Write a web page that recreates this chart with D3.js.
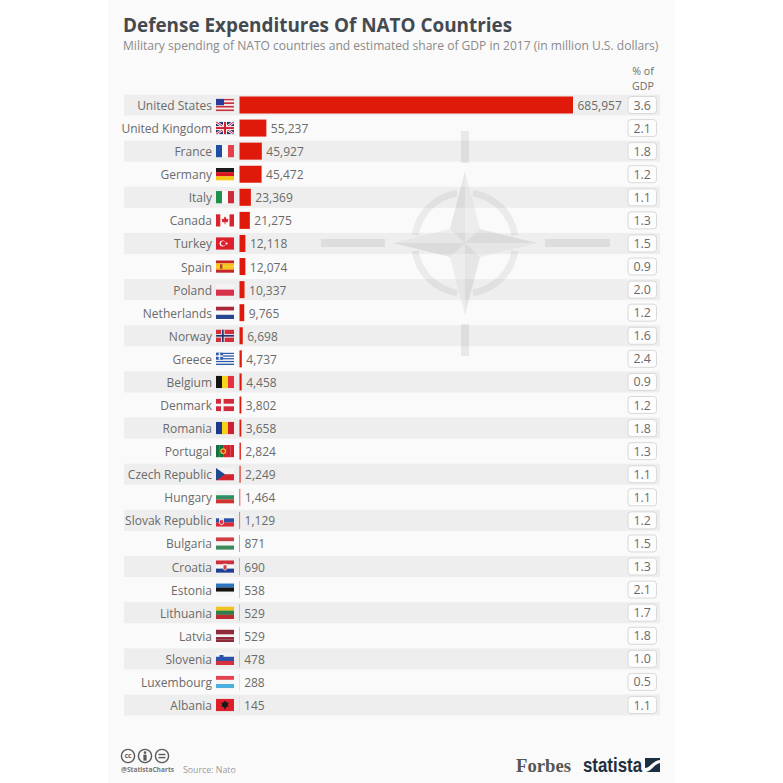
<!DOCTYPE html>
<html>
<head>
<meta charset="utf-8">
<script src="https://cdn.jsdelivr.net/npm/d3@7/dist/d3.min.js"></script>
<style>
  html,body{margin:0;padding:0;background:#fff}
  svg{display:block}
  text{font-family:"Open Sans",sans-serif}
</style>
</head>
<body>
<svg id="chart" width="783" height="783"></svg>
<script>
const countries = ['United States','United Kingdom','France','Germany','Italy','Canada','Turkey','Spain','Poland','Netherlands','Norway','Greece','Belgium','Denmark','Romania','Portugal','Czech Republic','Hungary','Slovak Republic','Bulgaria','Croatia','Estonia','Lithuania','Latvia','Slovenia','Luxembourg','Albania'];
const spending = [685957,55237,45927,45472,23369,21275,12118,12074,10337,9765,6698,4737,4458,3802,3658,2824,2249,1464,1129,871,690,538,529,529,478,288,145];
const gdpShare = ['3.6','2.1','1.8','1.2','1.1','1.3','1.5','0.9','2.0','1.2','1.6','2.4','0.9','1.2','1.8','1.3','1.1','1.1','1.2','1.5','1.3','2.1','1.7','1.8','1.0','0.5','1.1'];

const titleText = 'Defense Expenditures Of NATO Countries';
const subtitleText = 'Military spending of NATO countries and estimated share of GDP in 2017 (in million U.S. dollars)';

// flag drawing: dir = stripe direction, then stripe colours, then an optional extra
const flagDefs = {
  'United States': { dir: 'h', c: ['#c8313e','#f4eeee','#c8313e','#f4eeee','#c8313e','#f4eeee','#c8313e'], extra: 'us' },
  'United Kingdom': { dir: 'h', c: ['#27316f'], extra: 'uk' },
  'France': { dir: 'v', c: ['#1f4fa3','#fafafa','#e5414a'] },
  'Germany': { dir: 'h', c: ['#1a1a1a','#d8141c','#f7c90e'] },
  'Italy': { dir: 'v', c: ['#1f9148','#fafafa','#cf2a37'] },
  'Canada': { dir: 'v', c: ['#d9232e','#fafafa','#fafafa','#d9232e'], extra: 'leaf' },
  'Turkey': { dir: 'h', c: ['#dc1f2b'], extra: 'turkey' },
  'Spain': { dir: 'h', c: ['#c8222a','#f5c518','#f5c518','#c8222a'], extra: 'spain' },
  'Poland': { dir: 'h', c: ['#f4f2f2','#d9304a'] },
  'Netherlands': { dir: 'h', c: ['#a8283a','#f8f8f8','#27468f'] },
  'Norway': { dir: 'h', c: ['#d22f3c'], extra: 'norway' },
  'Greece': { dir: 'h', c: ['#2a5aa8','#f6f6f6','#2a5aa8','#f6f6f6','#2a5aa8','#f6f6f6','#2a5aa8','#f6f6f6','#2a5aa8'], extra: 'greece' },
  'Belgium': { dir: 'v', c: ['#141414','#f7d51d','#e5323c'] },
  'Denmark': { dir: 'h', c: ['#d22c3c'], extra: 'denmark' },
  'Romania': { dir: 'v', c: ['#1c3a8c','#f8d115','#cf1f30'] },
  'Portugal': { dir: 'v', c: ['#16713f','#16713f','#d5222c','#d5222c','#d5222c'], extra: 'portugal' },
  'Czech Republic': { dir: 'h', c: ['#f4f4f4','#d2232f'], extra: 'czech' },
  'Hungary': { dir: 'h', c: ['#f2f2f2','#2f9162','#cf3430'] },
  'Slovak Republic': { dir: 'h', c: ['#f4f4f4','#2a52a8','#dc2a36'], extra: 'shield' },
  'Bulgaria': { dir: 'h', c: ['#cf3d45','#f6f6f6','#3d8a5c'] },
  'Croatia': { dir: 'h', c: ['#cf2f3a','#f6f6f6','#1f3f92'], extra: 'croatia' },
  'Estonia': { dir: 'h', c: ['#2b74c0','#141414','#f6f6f6'] },
  'Lithuania': { dir: 'h', c: ['#f2c21c','#2f7d48','#be2b33'] },
  'Latvia': { dir: 'h', c: ['#8f2a38','#8f2a38','#f2f2f2','#8f2a38','#8f2a38'] },
  'Slovenia': { dir: 'h', c: ['#f4f4f4','#2a52a8','#d8303a'], extra: 'shieldLeft' },
  'Luxembourg': { dir: 'h', c: ['#e3434c','#f6f6f6','#4bb0de'] },
  'Albania': { dir: 'h', c: ['#dc1f2b'], extra: 'albania' },
};

const svg = d3.select('#chart');

// card
svg.append('rect').attr('x', 108).attr('y', 0).attr('width', 567).attr('height', 783).attr('fill', '#fafafa');

const rowH = 600 / 26;
const y = d3.scaleBand().domain(countries).range([105 - rowH / 2, 705 + rowH / 2]);
const x = d3.scaleLinear().domain([0, d3.max(spending)]).range([239.5, 573]);

// stripes
svg.append('g').selectAll('rect').data(countries.filter((d, i) => i % 2 === 0)).enter().append('rect')
  .attr('x', 124).attr('width', 536)
  .attr('y', d => y(d) + 1).attr('height', y.bandwidth() - 2)
  .attr('fill', '#eeeeee');

// NATO emblem watermark
const cx = 465, cy = 243;
const em = svg.append('g').attr('transform', `translate(${cx},${cy})`);
const ringArc = d3.arc().innerRadius(47).outerRadius(54);
[0, 0.5, 1, 1.5].forEach(k => {
  em.append('path').attr('fill', '#000').attr('fill-opacity', 0.06)
    .attr('d', ringArc({ startAngle: (k + 0.05) * Math.PI, endAngle: (k + 0.45) * Math.PI }));
});
em.append('path').attr('d', 'M0,-72 L15,-14 L72,0 L15,14 L0,72 L-15,14 L-72,0 L-15,-14 Z').attr('fill', '#000').attr('fill-opacity', 0.08);
em.append('path').attr('d', 'M0,-72 L15,-14 L0,0 Z M72,0 L15,14 L0,0 Z M0,72 L-15,14 L0,0 Z M-72,0 L-15,-14 L0,0 Z').attr('fill', '#fff').attr('fill-opacity', 0.3);
[[-4, -112, 8, 32], [-4, 81, 8, 32], [-144, -4, 64, 8], [80, -4, 65, 8]].forEach(r => {
  em.append('rect').attr('x', r[0]).attr('y', r[1]).attr('width', r[2]).attr('height', r[3]).attr('fill', '#000').attr('fill-opacity', 0.07);
});

// title
svg.append('text').attr('x', 123).attr('y', 32).attr('font-size', 18.9).attr('font-weight', 700).attr('fill', '#444a4f').text(titleText);
svg.append('text').attr('x', 123).attr('y', 50).attr('font-size', 12.05).attr('fill', '#8a8a8a').text(subtitleText);

// % of GDP head
const head = svg.append('text').attr('text-anchor', 'middle').attr('fill', '#6d6d6d').attr('font-size', 10.6);
head.append('tspan').attr('x', 643).attr('y', 75).text('% of');
head.append('tspan').attr('x', 643).attr('y', 89.5).text('GDP');

// bars
svg.append('g').selectAll('rect').data(countries).enter().append('rect')
  .attr('x', x(0))
  .attr('y', d => y(d) + y.bandwidth() / 2 - 8.5)
  .attr('width', (d, i) => x(spending[i]) - x(0))
  .attr('height', 17)
  .attr('fill', '#e01a0b');

// country labels
svg.append('g').selectAll('text').data(countries).enter().append('text')
  .attr('x', 212).attr('y', d => y(d) + y.bandwidth() / 2 + 5)
  .attr('text-anchor', 'end').attr('font-size', 12).attr('fill', '#6a6a6a').text(d => d);

// value labels
svg.append('g').selectAll('text').data(countries).enter().append('text')
  .attr('x', (d, i) => x(spending[i]) + 4.5)
  .attr('y', d => y(d) + y.bandwidth() / 2 + 5)
  .attr('font-size', 12).attr('fill', '#6a6a6a')
  .text((d, i) => d3.format(',')(spending[i]));

// % of GDP pills
const pills = svg.append('g').selectAll('g').data(countries).enter().append('g')
  .attr('transform', d => `translate(628,${y(d) + y.bandwidth() / 2 - 8.5})`);
pills.append('rect').attr('width', 28.5).attr('height', 17).attr('rx', 3)
  .attr('fill', '#fdfdfd').attr('stroke', '#d9d9d9');
pills.append('text').attr('x', 14.25).attr('y', 13).attr('text-anchor', 'middle')
  .attr('font-size', 12.4).attr('fill', '#6a6a6a').text((d, i) => gdpShare[i]);

// flags
const FW = 18, FH = 12.5;
function drawFlag(g, def, id) {
  const clip = svg.append('clipPath').attr('id', id);
  clip.append('rect').attr('width', FW).attr('height', FH);
  const f = g.append('g').attr('clip-path', `url(#${id})`);
  const band = d3.scaleBand().domain(d3.range(def.c.length)).range([0, def.dir === 'h' ? FH : FW]);
  def.c.forEach((col, i) => {
    if (def.dir === 'h') f.append('rect').attr('x', 0).attr('y', band(i)).attr('width', FW).attr('height', band.bandwidth() + 0.1).attr('fill', col);
    else f.append('rect').attr('y', 0).attr('x', band(i)).attr('height', FH).attr('width', band.bandwidth() + 0.1).attr('fill', col);
  });
  const r = (a, b, w, h, col) => f.append('rect').attr('x', a).attr('y', b).attr('width', w).attr('height', h).attr('fill', col);
  const c = (a, b, rad, col) => f.append('circle').attr('cx', a).attr('cy', b).attr('r', rad).attr('fill', col);
  const p = (d, col) => f.append('path').attr('d', d).attr('fill', col);
  const l = (d, col, w) => f.append('path').attr('d', d).attr('stroke', col).attr('stroke-width', w).attr('fill', 'none');
  switch (def.extra) {
    case 'us': r(0, 0, 8, 6.5, '#2a3a9a'); break;
    case 'uk':
      l(`M0,0L${FW},${FH}M${FW},0L0,${FH}`, '#f4f4f4', 2.6);
      l(`M0,0L${FW},${FH}M${FW},0L0,${FH}`, '#cf2030', 1);
      r(0, 4.25, FW, 4, '#f4f4f4'); r(7, 0, 4, FH, '#f4f4f4');
      r(0, 5.25, FW, 2, '#cf2030'); r(8, 0, 2, FH, '#cf2030'); break;
    case 'leaf': p('M9,2.2L10.6,5L12.5,4.6L11.6,8L9.4,8L9.4,10.2L8.6,10.2L8.6,8L6.4,8L5.5,4.6L7.4,5Z', '#d9232e'); break;
    case 'turkey': c(6.6, 6.25, 3, '#fff'); c(7.4, 6.25, 2.4, '#dc1f2b'); c(10.6, 6.25, 1, '#fff'); break;
    case 'spain': r(4, 4, 2.4, 4.5, '#b4412a'); break;
    case 'norway': r(5, 0, 3.6, FH, '#f4f4f4'); r(0, 4.45, FW, 3.6, '#f4f4f4'); r(5.9, 0, 1.8, FH, '#24336e'); r(0, 5.35, FW, 1.8, '#24336e'); break;
    case 'greece': r(0, 0, 7, 7, '#2a5aa8'); r(2.7, 0, 1.5, 7, '#f6f6f6'); r(0, 2.7, 7, 1.5, '#f6f6f6'); break;
    case 'denmark': r(5, 0, 2.6, FH, '#f6f6f6'); r(0, 4.95, FW, 2.6, '#f6f6f6'); break;
    case 'portugal': c(7.2, 6.25, 2.9, '#e8c21e'); c(7.2, 6.25, 1.6, '#d5222c'); break;
    case 'czech': p(`M0,0L9,${FH / 2}L0,${FH}Z`, '#1d4a8f'); break;
    case 'shield': p('M3,3.5H8V8Q8,10.5 5.5,11Q3,10.5 3,8Z', '#e6e6f0'); p('M3.8,6H7.2V8Q7.2,9.6 5.5,10Q3.8,9.6 3.8,8Z', '#d8303a'); break;
    case 'shieldLeft': p('M3.5,2.5H7.5V6Q7.5,8 5.5,8.6Q3.5,8 3.5,6Z', '#2a52a8'); break;
    case 'croatia': p('M7,3.5H11V8Q11,9.8 9,10.3Q7,9.8 7,8Z', '#e5e5e5'); p('M7.6,5H10.4V8Q10.4,9 9,9.5Q7.6,9 7.6,8Z', '#d23c44'); break;
    case 'albania': p('M9,2L11.4,4.2L13,3.6L11.8,6.2L12.6,8L10.4,8L9,11L7.6,8L5.4,8L6.2,6.2L5,3.6L6.6,4.2Z', '#1a1a1a'); break;
  }
}
countries.forEach((d, i) => {
  const g = svg.append('g').attr('transform', `translate(216,${y(d) + y.bandwidth() / 2 - FH / 2})`);
  drawFlag(g, flagDefs[d], `flag-${i}`);
});

// footer
const cc = svg.append('g').attr('fill', 'none').attr('stroke', '#5a5a5a').attr('stroke-width', 1.4);
[128, 145, 162].forEach(a => cc.append('circle').attr('cx', a).attr('cy', 756).attr('r', 6.6));
svg.append('text').attr('x', 128).attr('y', 758.2).attr('text-anchor', 'middle').attr('font-size', 6.5).attr('font-weight', 700).attr('fill', '#5a5a5a').text('cc');
svg.append('circle').attr('cx', 145).attr('cy', 752.6).attr('r', 1.3).attr('fill', '#5a5a5a');
svg.append('rect').attr('x', 143.4).attr('y', 754.6).attr('width', 3.2).attr('height', 6).attr('fill', '#5a5a5a');
svg.append('rect').attr('x', 158.5).attr('y', 753.8).attr('width', 7).attr('height', 1.4).attr('fill', '#5a5a5a');
svg.append('rect').attr('x', 158.5).attr('y', 756.9).attr('width', 7).attr('height', 1.4).attr('fill', '#5a5a5a');
svg.append('text').attr('x', 121).attr('y', 772).attr('font-size', 6.6).attr('font-weight', 700).attr('fill', '#777').text('@StatistaCharts');
svg.append('text').attr('x', 183).attr('y', 772.5).attr('font-size', 8.8).attr('fill', '#9a9a9a').text('Source: Nato');

svg.append('text').attr('x', 516).attr('y', 772).attr('font-size', 19).attr('font-weight', 700)
  .style('font-family', '"Liberation Serif",serif').attr('fill', '#555').attr('textLength', 55).attr('lengthAdjust', 'spacingAndGlyphs').text('Forbes');
svg.append('text').attr('x', 583).attr('y', 772).attr('font-size', 21).attr('font-weight', 700)
  .style('font-family', '"Liberation Sans",sans-serif').attr('fill', '#1f2f3d').attr('textLength', 59).attr('lengthAdjust', 'spacingAndGlyphs').text('statista');
svg.append('rect').attr('x', 645).attr('y', 758).attr('width', 15).attr('height', 14).attr('fill', '#1c2f40');
svg.append('path').attr('d', 'M645,768 C650,768 652,761 660,760 L660,763 C654,764 652,771 646,772 L645,772 Z').attr('fill', '#fafafa');
</script>
</body>
</html>
